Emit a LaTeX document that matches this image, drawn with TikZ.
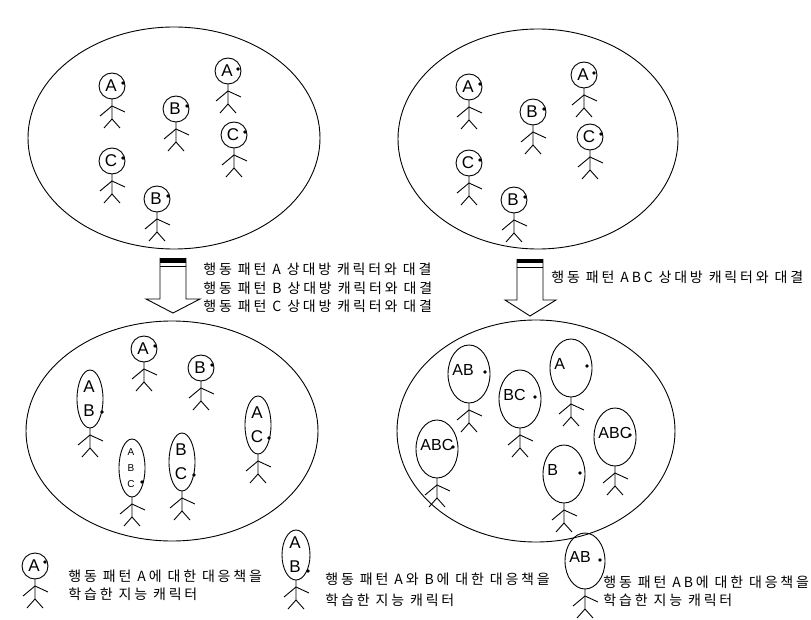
\documentclass[tikz,border=0pt]{standalone}
\usepackage{fontspec}
\setmainfont{Liberation Sans}
\newfontfamily\kor{Noto Sans CJK KR}[LetterSpace=20]

\tikzset{
    headtxt/.style={font=\fontsize{17}{24}\selectfont, align=center, inner sep=0pt},
    smalltxt/.style={font=\fontsize{10}{16}\selectfont, align=center, inner sep=0pt},
    widetxt/.style={font=\fontsize{16}{18}\selectfont, anchor=west, inner sep=0pt},
    note/.style={font=\kor\fontsize{14}{16}\selectfont, anchor=west, inner sep=0pt},
}

\begin{document}
\begin{tikzpicture}[x=1pt, y=-1pt, line width=0.9pt]
    \useasboundingbox (0,0) rectangle (811,620);

    % the four groups
    \draw (174,138) ellipse (146pt and 111pt);
    \draw (538,139) ellipse (140pt and 110pt);
    \draw (172,431) ellipse (146pt and 110pt);
    \draw (536,431) ellipse (139pt and 111pt);

    % characters with round or narrow heads: x/y/rx/ry/dot dx/dot dy/style/letters
    \foreach \x/\y/\rx/\ry/\dx/\dy/\sty/\txt in {
        112/86/13/13/11/-3/headtxt/A, 176/109/13/13/11/-3/headtxt/B,
        228/71/13/13/10/-2/headtxt/A, 234/135/13/13/11/-3/headtxt/C,
        112/161/13/13/11/-3/headtxt/C, 157/199/13/13/11/-3/headtxt/B,
        469/87/13/13/11/-3/headtxt/A, 533/112/13/13/11/-3/headtxt/B,
        584/75/13/13/10/-2/headtxt/A, 590/137/13/13/11/-3/headtxt/C,
        469/163/13/13/11/-3/headtxt/C, 514/200/13/13/11/-3/headtxt/B,
        144/349/13/13/11/-3/headtxt/A, 201/368/13/13/11/-3/headtxt/B,
        90/399/13/29/12/13/headtxt/{A\\B}, 132/468/13/29/10/14/smalltxt/{A\\B\\C},
        182/462/13/29/12/13/headtxt/{B\\C}, 258/425/13/29/11/13/headtxt/{A\\C},
        35/566/13/13/10/-4/headtxt/A, 296/555/14/25/12/16/headtxt/{A\\B}}
    {
        \draw (\x,\y) ellipse (\rx pt and \ry pt);
        \node[\sty] (h-\x-\y) at (\x-1,\y) {\txt};
        \fill (\x+\dx,\y+\dy) circle (1.8pt);
        \draw (\x,\y+\ry) -- (\x,\y+\ry+20) -- (\x-8,\y+\ry+29);
        \draw (\x,\y+\ry+20) -- (\x+8,\y+\ry+29);
        \draw (\x-12,\y+\ry+17) -- (\x,\y+\ry+7) -- (\x+13,\y+\ry+13);
    }

    % characters with wide heads
    \foreach \x/\y/\rx/\ry/\dx/\dy/\txt in {
        469/374/21/29/16/-2/AB, 520/399/21/29/15/-2/BC, 571/368/21/29/16/-2/A,
        437/449/21/29/16/-2/ABC, 615/437/21/29/15/-2/ABC, 564/474/21/29/16/-1/B,
        585/561/20/28/15/-1/AB}
    {
        \draw (\x,\y) ellipse (\rx pt and \ry pt);
        \node[widetxt] (w-\x-\y) at (\x-\rx+4,\y-4) {\txt};
        \fill (\x+\dx,\y+\dy) circle (1.8pt);
        \draw (\x,\y+\ry) -- (\x,\y+\ry+20) -- (\x-8,\y+\ry+29);
        \draw (\x,\y+\ry+20) -- (\x+8,\y+\ry+29);
        \draw (\x-12,\y+\ry+17) -- (\x,\y+\ry+7) -- (\x+13,\y+\ry+13);
    }

    % block arrows
    \fill (160,258) rectangle (186,263);
    \draw (160,266) -- (186,266);
    \draw (160,258) -- (160,299) -- (146,299) -- (173,313) -- (200,299) -- (186,299) -- (186,258);

    \fill (517,259) rectangle (543,263);
    \draw (517,267) -- (543,267);
    \draw (517,259) -- (517,300) -- (505,300) -- (530,316) -- (556,300) -- (543,300) -- (543,259);

    \node[note] (vsA) at (203,269) {행동 패턴 A 상대방 캐릭터와 대결};
    \node[note] (vsB) at (203,288) {행동 패턴 B 상대방 캐릭터와 대결};
    \node[note] (vsC) at (203,306) {행동 패턴 C 상대방 캐릭터와 대결};
    \node[note] (vsABC) at (551,277) {행동 패턴 ABC 상대방 캐릭터와 대결};

    % legend
    \node[note] (keyA) at (68,576) {행동 패턴 A에 대한 대응책을};
    \node[note] (keyA-2) at (68,594) {학습한 지능 캐릭터};
    \node[note] (keyAB) at (325,579) {행동 패턴 A와 B에 대한 대응책을};
    \node[note] (keyAB-2) at (325,600) {학습한 지능 캐릭터};
    \node[note] (keyABw) at (603,582) {행동 패턴 AB에 대한 대응책을};
    \node[note] (keyABw-2) at (603,600) {학습한 지능 캐릭터};
\end{tikzpicture}
\end{document}
